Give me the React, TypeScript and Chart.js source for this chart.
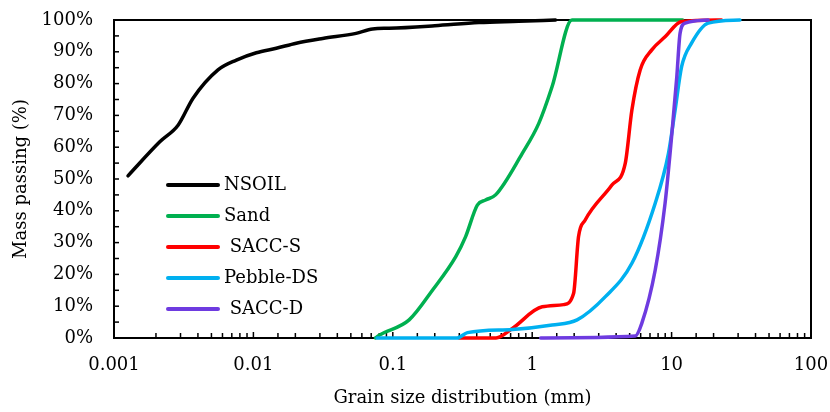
import React, { useEffect, useRef } from "react";
import { Chart, registerables } from "chart.js";

Chart.register(...registerables);

// ---- Data ----
const seriesNames = ["NSOIL", "Sand", " SACC-S", "Pebble-DS", " SACC-D"];
const seriesColors = ["#000000", "#00b050", "#ff0000", "#00b0f0", "#6e3be0"];

const nsoilX = [0.00126, 0.00213, 0.00289, 0.00369, 0.00557, 0.00755, 0.0105, 0.0146, 0.0203, 0.0314, 0.0545, 0.0716, 0.0942, 0.2, 0.415, 0.8, 1.47];
const nsoilY = [51, 61.7, 67, 75.4, 84.3, 87.4, 89.7, 91.1, 92.7, 94.2, 95.8, 97.2, 97.4, 98.2, 99.2, 99.6, 100];

const sandX = [0.075, 0.08, 0.131, 0.193, 0.283, 0.333, 0.404, 0.463, 0.546, 0.847, 1.115, 1.388, 1.93, 12];
const sandY = [0, 0.9, 5.7, 15.1, 25.6, 31.9, 41.8, 43.4, 45, 58, 67.5, 79, 100, 100];

const saccSX = [0.3, 0.55, 0.72, 1.18, 1.68, 1.98, 2.15, 2.4, 3.73, 4.65, 5.19, 5.95, 7.21, 8.98, 11.8, 22.8];
const saccSY = [0, 0, 3, 9.8, 10.5, 14, 31.9, 37.1, 48.1, 54.9, 71.7, 84.3, 90.6, 94.7, 99.5, 100];

const pebbleX = [0.077, 0.29, 0.343, 0.72, 1.39, 2.1, 3.35, 5.19, 7.63, 9.49, 10.6, 11.8, 13.9, 18.3, 30.9];
const pebbleY = [0, 0, 1.7, 2.7, 4.1, 5.7, 13, 23.5, 42.4, 58, 71.7, 85.3, 92.7, 99, 100];

const saccDX = [1.15, 5.48, 6.11, 7.63, 8.98, 10.0, 10.9, 11.5, 12.5, 18.3];
const saccDY = [0, 0.6, 4.6, 21.4, 42.4, 63.3, 82.2, 95.8, 99, 100];

const xTickValues = [0.001, 0.01, 0.1, 1, 10, 100];
const xTickLabels = ["0.001", "0.01", "0.1", "1", "10", "100"];
const yTickLabels = ["0%", "10%", "20%", "30%", "40%", "50%", "60%", "70%", "80%", "90%", "100%"];

const xTitle = "Grain size distribution (mm)";
const yTitle = "Mass passing (%)";

const allX = [nsoilX, sandX, saccSX, pebbleX, saccDX];
const allY = [nsoilY, sandY, saccSY, pebbleY, saccDY];

const FONT = "'DejaVu Serif', serif";

function isPow10(v: number) {
  const l = Math.log10(v);
  return Math.abs(l - Math.round(l)) < 1e-6;
}

const framePlugin = {
  id: "framePlugin",
  beforeDatasetsDraw(chart: any) {
    const { ctx, chartArea, scales } = chart;
    const { left, right, top, bottom } = chartArea;
    ctx.save();
    ctx.strokeStyle = "#000";
    ctx.lineWidth = 1.5;
    scales.x.ticks.forEach((t: any) => {
      const px = scales.x.getPixelForValue(t.value);
      const len = isPow10(t.value) ? 6 : 5;
      ctx.beginPath();
      ctx.moveTo(px, bottom);
      ctx.lineTo(px, bottom - len);
      ctx.stroke();
    });
    scales.y.ticks.forEach((t: any) => {
      const py = scales.y.getPixelForValue(t.value);
      ctx.beginPath();
      ctx.moveTo(left, py);
      ctx.lineTo(left + 5, py);
      ctx.stroke();
    });
    ctx.lineWidth = 2;
    ctx.strokeRect(left, top, right - left, bottom - top);
    ctx.restore();
  },
  afterDraw(chart: any) {
    const { ctx, chartArea } = chart;
    const { left, top } = chartArea;
    ctx.save();
    chart.data.datasets.forEach((ds: any, i: number) => {
      const y = top + 165 + i * 31;
      ctx.strokeStyle = ds.borderColor;
      ctx.lineWidth = 4;
      ctx.lineCap = "round";
      ctx.beginPath();
      ctx.moveTo(left + 54, y);
      ctx.lineTo(left + 104, y);
      ctx.stroke();
      ctx.fillStyle = "#000";
      ctx.font = `18px ${FONT}`;
      ctx.textBaseline = "middle";
      ctx.textAlign = "left";
      ctx.fillText(ds.label, left + 110, y);
    });
    ctx.restore();
  },
};

export default function App() {
  const ref = useRef<HTMLCanvasElement>(null);
  useEffect(() => {
    if (!ref.current) return;
    const datasets = seriesNames.map((name, i) => ({
      label: name,
      data: allX[i].map((x, j) => ({ x, y: allY[i][j] })),
      borderColor: seriesColors[i],
      backgroundColor: seriesColors[i],
      borderWidth: 3.5,
      pointRadius: 0,
      pointHoverRadius: 0,
      fill: false,
      showLine: true,
      cubicInterpolationMode: "monotone" as const,
      borderJoinStyle: "round" as const,
      borderCapStyle: "round" as const,
      clip: false as any,
      order: seriesNames.length - 1 - i,
    }));
    const chart = new Chart(ref.current, {
      type: "scatter",
      data: { datasets },
      plugins: [framePlugin],
      options: {
        animation: false,
        responsive: false,
        devicePixelRatio: 1,
        layout: { padding: { top: 20, right: 19, left: 0, bottom: 0 } },
        plugins: { legend: { display: false }, tooltip: { enabled: false } },
        scales: {
          x: {
            type: "logarithmic",
            min: 0.001,
            max: 100,
            grid: { display: false, drawTicks: false },
            border: { display: false },
            afterFit: (s: any) => {
              s.height = 74;
              s.paddingLeft = 0;
              s.paddingRight = 0;
            },
            ticks: {
              autoSkip: false,
              maxRotation: 0,
              padding: 17,
              color: "#000",
              font: { family: FONT, size: 18 },
              callback: (v: any) => {
                const idx = xTickValues.findIndex((t) => Math.abs(Math.log10(t) - Math.log10(Number(v))) < 1e-6);
                return idx >= 0 ? xTickLabels[idx] : "";
              },
            },
            title: {
              display: true,
              text: xTitle,
              color: "#000",
              font: { family: FONT, size: 18 },
              padding: { top: 0, bottom: 3 },
            },
          },
          y: {
            type: "linear",
            min: 0,
            max: 100,
            grid: { display: false, drawTicks: false },
            border: { display: false },
            afterFit: (s: any) => {
              s.width = 114;
              s.paddingTop = 0;
              s.paddingBottom = 0;
            },
            ticks: {
              stepSize: 5,
              autoSkip: false,
              padding: 21,
              color: "#000",
              font: { family: FONT, size: 18 },
              callback: (v: any) => {
                const n = Number(v);
                return n % 10 === 0 ? yTickLabels[n / 10] : "";
              },
            },
            title: {
              display: true,
              text: yTitle,
              color: "#000",
              font: { family: FONT, size: 18 },
              padding: { top: 11, bottom: 0 },
            },
          },
        },
      },
    });
    return () => chart.destroy();
  }, []);
  return (
    <div style={{ position: "fixed", left: 0, top: 0, width: 830, height: 412, background: "#fff" }}>
      <canvas ref={ref} width={830} height={412} style={{ width: 830, height: 412 }} />
    </div>
  );
}
